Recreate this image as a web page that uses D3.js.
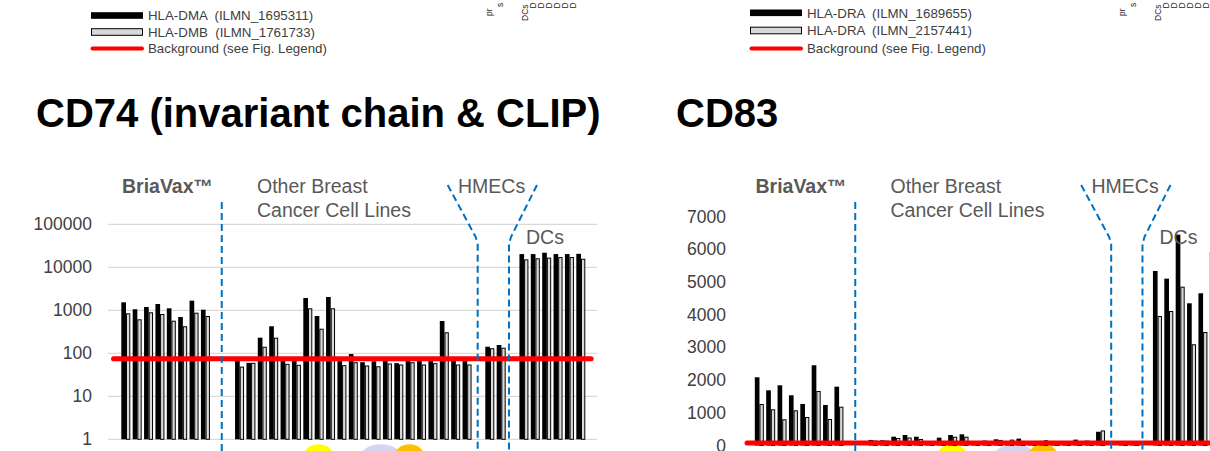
<!DOCTYPE html>
<html>
<head>
<meta charset="utf-8">
<script src="https://cdn.jsdelivr.net/npm/d3@7"></script>
<style>
  html, body { margin: 0; padding: 0; background: #fff; }
  svg { display: block; font-family: "Liberation Sans", Arial, sans-serif; }
</style>
</head>
<body>
<svg id="chart" width="1210" height="451"></svg>
<script>
// ---- sample groups along the x axis ----
const briavaxLines = ["BV-1", "BV-2", "BV-3", "BV-4", "BV-5", "BV-6", "BV-7", "BV-8"];
const breastLines = ["BC-01", "BC-02", "BC-03", "BC-04", "BC-05", "BC-06", "BC-07", "BC-08", "BC-09", "BC-10",
                     "BC-11", "BC-12", "BC-13", "BC-14", "BC-15", "BC-16", "BC-17", "BC-18", "BC-19", "BC-20", "BC-21"];
const hmecLines = ["HMEC-1", "HMEC-2"];
const dcSamples = ["DC-1", "DC-2", "DC-3", "DC-4", "DC-5", "DC-6"];
// empty slots separate the groups
const categories = ["pad-L", ...briavaxLines, "gap-1", "gap-2", ...breastLines, "gap-3",
                    ...hmecLines, "gap-4", ...dcSamples, "pad-R"];
const samples = [...briavaxLines, ...breastLines, ...hmecLines, ...dcSamples];

// ---- CD74 panel (log scale) ----
const cd74Ticks = [1, 10, 100, 1000, 10000, 100000];
const hlaDMA = [1535, 1055, 1193, 1402, 1113, 699, 1675, 1032,
                68, 60, 231, 425, 70, 67, 1932, 737, 2039, 66, 96, 62, 65, 69, 59, 82, 67, 70, 564, 68, 66,
                142, 156,
                20300, 20300, 21800, 20300, 20300, 20600];
const hlaDMB = [851, 617, 898, 820, 573, 425, 880, 737,
                49, 60, 142, 231, 57, 54, 1113, 373, 1113, 53, 62, 52, 50, 58, 55, 62, 55, 59, 308, 55, 55,
                131, 135,
                15300, 16200, 16800, 17300, 17300, 15800];

// ---- CD83 panel (linear scale) ----
const cd83Ticks = [0, 1000, 2000, 3000, 4000, 5000, 6000, 7000];
const hlaDRA1 = [2085, 1687, 1840, 1535, 1269, 2452, 1238, 1798,
                 170, 160, 269, 321, 269, 120, 239, 321, 342, 130, 150, 190, 120, 210, 120, 140, 110, 120, 180, 150, 420,
                 60, 70,
                 5335, 5100, 6445, 4347, 4653, 5925];
const hlaDRA2 = [1269, 1107, 801, 1076, 871, 1666, 810, 1186,
                 150, 150, 230, 245, 200, 100, 130, 269, 269, 100, 120, 170, 180, 140, 100, 160, 90, 100, 130, 110, 460,
                 50, 55,
                 3959, 4112, 4855, 3094, 3470, 4500];

const background = 75;   // background expression level (red line)

// highlighted cell lines under the axis
const highlights = [
  { from: "BC-08", to: "BC-08", color: "#FFFF00" },
  { from: "BC-13", to: "BC-14", color: "#D5D5F3" },
  { from: "BC-16", to: "BC-16", color: "#FFC000" }
];

const svg = d3.select("#chart");
svg.append("rect").attr("width", 1210).attr("height", 451).attr("fill", "#fff");

const STEP = 11.375;
const BLUE = "#0070C0";
const TEXT_GREY = "#595959";

function drawLegend(lx, rows, labels) {
  const g = svg.append("g").attr("transform", `translate(${lx},0)`);
  g.append("rect").attr("x", 0).attr("y", rows[0] - 3.3).attr("width", 52).attr("height", 6.6).attr("fill", "#000");
  g.append("rect").attr("x", 0.5).attr("y", rows[1] - 3.3).attr("width", 51).attr("height", 6.6)
    .attr("fill", "#D9D9D9").attr("stroke", "#000").attr("stroke-width", 1);
  g.append("line").attr("x1", 1.5).attr("x2", 51).attr("y1", rows[2]).attr("y2", rows[2])
    .attr("stroke", "#FF0000").attr("stroke-width", 4).attr("stroke-linecap", "round");
  labels.forEach((t, i) => {
    g.append("text").attr("x", 57).attr("y", rows[i] + 4.7)
      .attr("font-size", 13.3).attr("fill", "#404040").style("white-space", "pre").text(t);
  });
}

// rotated category labels of the figure above, cut by the top edge
function drawTopFragments(ox) {
  const g = svg.append("g").attr("font-size", 8.5).attr("fill", "#222");
  const frags = [
    { x: 492, y: 16, t: "pr" }, { x: 503, y: 7, t: "s" },
    { x: 528, y: 21, t: "DCs" },
    { x: 535.5, y: 8.5, t: "D" }, { x: 543.5, y: 8.5, t: "D" }, { x: 551.5, y: 8.5, t: "D" },
    { x: 559.5, y: 8.5, t: "D" }, { x: 567.5, y: 8.5, t: "D" }, { x: 575.5, y: 8.5, t: "D" }
  ];
  frags.forEach(f => {
    g.append("text").attr("transform", `translate(${f.x + ox},${f.y}) rotate(-90)`).text(f.t);
  });
}

function drawPanel(p) {
  const g = svg.append("g");
  const x = d3.scaleBand().domain(categories)
    .range([p.x0, p.x0 + categories.length * STEP]).paddingInner(0).paddingOuter(0);
  const bw = x.bandwidth();
  const y = p.y;
  const left = p.x0, right = p.x0 + categories.length * STEP;

  // gridlines
  if (p.grid) {
    g.append("g").selectAll("line").data(p.ticks).join("line")
      .attr("x1", left).attr("x2", right)
      .attr("y1", d => y(d)).attr("y2", d => y(d))
      .attr("stroke", "#D9D9D9").attr("stroke-width", 1.3);
  }

  // y axis labels
  const ax = g.append("g").attr("transform", `translate(${left},0)`)
    .call(d3.axisLeft(y).tickValues(p.ticks).tickSize(0).tickPadding(p.pad).tickFormat(d3.format("d")));
  ax.select(".domain").remove();
  ax.selectAll("text").attr("font-size", 17.5).attr("fill", "#404040")
    .attr("font-family", "'Liberation Sans', Arial, sans-serif");

  // highlight ellipses under the axis
  g.append("g").selectAll("ellipse").data(highlights).join("ellipse")
    .attr("cx", d => (x(d.from) + x(d.to) + bw) / 2)
    .attr("cy", 457)
    .attr("rx", d => (x(d.to) - x(d.from) + bw) / 2 + 9.5)
    .attr("ry", 12.7)
    .attr("fill", d => d.color);

  // bars
  const base = p.base;
  const bars = g.append("g");
  bars.selectAll("rect.s1").data(samples).join("rect").attr("class", "s1")
    .attr("x", (d) => x(d) + bw * 0.17)
    .attr("width", bw * 0.41)
    .attr("y", (d, i) => y(p.s1[i]))
    .attr("height", (d, i) => base - y(p.s1[i]))
    .attr("fill", "#000");
  bars.selectAll("rect.s2").data(samples).join("rect").attr("class", "s2")
    .attr("x", (d) => x(d) + bw * 0.58 + 0.5)
    .attr("width", bw * 0.38 - 1)
    .attr("y", (d, i) => y(p.s2[i]) + 0.5)
    .attr("height", (d, i) => Math.max(0, base - y(p.s2[i]) - 0.5))
    .attr("fill", "#D9D9D9").attr("stroke", "#000").attr("stroke-width", 1);

  // background line
  g.append("line")
    .attr("x1", left + 5.5).attr("x2", right - 6)
    .attr("y1", y(background)).attr("y2", y(background))
    .attr("stroke", "#FF0000").attr("stroke-width", 5).attr("stroke-linecap", "round");

  // group dividers
  const dash = { stroke: BLUE, "stroke-width": 2, "stroke-dasharray": "7,4", fill: "none" };
  const applyDash = sel => { Object.entries(dash).forEach(([k, v]) => sel.attr(k, v)); return sel; };
  const xDiv = x("gap-2");
  applyDash(g.append("line").attr("x1", xDiv).attr("x2", xDiv).attr("y1", 202).attr("y2", 451));
  const xh1 = x("gap-3") + bw * 0.5;
  const xh2 = x("gap-4") + bw * 0.25;
  const line = d3.line();
  applyDash(g.append("path").attr("d", line([[xh1 - 30, 185], [xh1 - 2, 237], [xh1, 244], [xh1, 451]])));
  applyDash(g.append("path").attr("d", line([[xh2 + 28, 185], [xh2 + 2, 237], [xh2, 244], [xh2, 451]])));

  // group labels
  const lab = g.append("g").attr("fill", TEXT_GREY).attr("font-size", 19.5);
  lab.append("text").attr("x", left + 14).attr("y", 193).attr("font-weight", "bold").text("BriaVax™");
  lab.append("text").attr("x", left + 149).attr("y", 193).text("Other Breast");
  lab.append("text").attr("x", left + 149).attr("y", 217).text("Cancer Cell Lines");
  lab.append("text").attr("x", left + 350).attr("y", 193).text("HMECs");
  lab.append("text").attr("x", left + 418).attr("y", 244).text("DCs");

  // title
  svg.append("text").attr("x", p.titleX).attr("y", 127)
    .attr("font-size", 40).attr("font-weight", "bold").attr("fill", "#000").text(p.title);
}

drawLegend(91, [15.5, 32, 48.5], ["HLA-DMA  (ILMN_1695311)", "HLA-DMB  (ILMN_1761733)", "Background (see Fig. Legend)"]);
drawLegend(750, [12.8, 30.5, 48.5], ["HLA-DRA  (ILMN_1689655)", "HLA-DRA  (ILMN_2157441)", "Background (see Fig. Legend)"]);
drawTopFragments(0);
drawTopFragments(633);

drawPanel({
  x0: 108, title: "CD74 (invariant chain & CLIP)", titleX: 36,
  y: d3.scaleLog().domain([1, 100000]).range([439.3, 224.3]),
  base: 439.3, ticks: cd74Ticks, grid: true, pad: 16,
  s1: hlaDMA, s2: hlaDMB
});
drawPanel({
  x0: 741.5, title: "CD83", titleX: 676,
  y: d3.scaleLinear().domain([0, 7000]).range([445.5, 216.5]),
  base: 445.5, ticks: cd83Ticks, grid: false, pad: 15.5,
  s1: hlaDRA1, s2: hlaDRA2
});
</script>
</body>
</html>
